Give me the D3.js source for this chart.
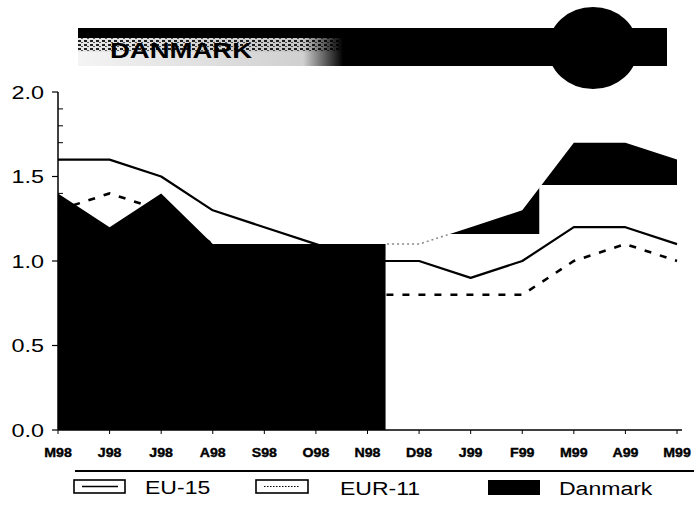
<!DOCTYPE html>
<html>
<head>
<meta charset="utf-8">
<script src="https://cdn.jsdelivr.net/npm/d3@7"></script>
<style>
  html, body { margin: 0; padding: 0; background: #fff; }
  svg { display: block; }
  text { font-family: "Liberation Sans", Arial, sans-serif; }
</style>
</head>
<body>
<div id="chart"></div>
<script>
// ---- data ----
const months = ["M98","J98","J98","A98","S98","O98","N98","D98","J99","F99","M99","A99","M99"];
const eu15   = [1.6,1.6,1.5,1.3,1.2,1.1,1.0,1.0,0.9,1.0,1.2,1.2,1.1];
const eur11  = [1.3,1.4,1.3,1.1,1.0,0.9,0.8,0.8,0.8,0.8,1.0,1.1,1.0];
const danmark= [1.4,1.2,1.4,1.1,1.1,1.1,1.1,1.1,1.2,1.3,1.7,1.7,1.6];
const yTicks = [0.0,0.5,1.0,1.5,2.0];
const title = "DANMARK";
const legendNames = ["EU-15","EUR-11","Danmark"];
// visible portions of the (scanned) Danmark fill: [from index, to index, floor value]
const fillBands = [[0,6.35,0],[7,9.33,1.16],[9.29,12,1.45]];
const faintSpan = [6.35,7.6];

const W = 694, H = 505;
const svg = d3.select("#chart").append("svg").attr("width", W).attr("height", H);

const x = d3.scaleLinear().domain([0, months.length - 1]).range([58, 677]);
const y = d3.scaleLinear().domain([0, 2]).range([430, 92]);

// ---- title banner ----
const banner = svg.append("g");
const defs = svg.append("defs");
const grad = defs.append("linearGradient").attr("id","fade").attr("x1","0").attr("x2","1");
grad.append("stop").attr("offset","0").attr("stop-color","#000").attr("stop-opacity",0);
grad.append("stop").attr("offset","0.85").attr("stop-color","#000").attr("stop-opacity",0.15);
grad.append("stop").attr("offset","1").attr("stop-color","#000").attr("stop-opacity",1);
const pat = defs.append("pattern").attr("id","speck").attr("width",6).attr("height",4).attr("patternUnits","userSpaceOnUse");
pat.append("rect").attr("width",6).attr("height",4).attr("fill","#e8e8e8");
pat.append("rect").attr("x",0).attr("y",0).attr("width",3).attr("height",2).attr("fill","#222");
pat.append("rect").attr("x",3).attr("y",2).attr("width",2).attr("height",1).attr("fill","#555");

banner.append("rect").attr("x",78).attr("y",28).attr("width",589).attr("height",38).attr("fill","#000");
banner.append("rect").attr("x",78).attr("y",38).attr("width",265).attr("height",14).attr("fill","url(#speck)");
banner.append("rect").attr("x",78).attr("y",52).attr("width",265).attr("height",14).attr("fill","#f4f4f4");
banner.append("rect").attr("x",78).attr("y",38).attr("width",265).attr("height",28).attr("fill","url(#fade)");
banner.append("ellipse").attr("cx",593).attr("cy",48).attr("rx",45).attr("ry",41).attr("fill","#000");
banner.append("text").attr("transform","translate(110,58) scale(1.25,1)")
  .attr("font-size",22).attr("font-weight","bold").attr("fill","#000").text(title);

// ---- lines (drawn under the fill) ----
const line = d3.line().x((d,i) => x(i)).y(d => y(d));
svg.append("path").datum(eu15).attr("d", line)
  .attr("fill","none").attr("stroke","#000").attr("stroke-width",2.2).attr("stroke-linejoin","round");
svg.append("path").datum(eur11).attr("d", line)
  .attr("fill","none").attr("stroke","#000").attr("stroke-width",2.6).attr("stroke-dasharray","7,9");

// ---- Danmark fill ----
const clip = defs.append("clipPath").attr("id","dkclip");
fillBands.forEach(b => {
  clip.append("rect").attr("x", x(b[0])).attr("width", x(b[1]) - x(b[0]))
    .attr("y", y(2)).attr("height", y(b[2]) - y(2));
});
const area = d3.area().x((d,i) => x(i)).y0(y(0)).y1(d => y(d));
svg.append("path").datum(danmark).attr("d", area).attr("fill","#000").attr("clip-path","url(#dkclip)");

// faint scanned remnant of the fill's top edge
const clip2 = defs.append("clipPath").attr("id","faint");
clip2.append("rect").attr("x", x(faintSpan[0])).attr("width", x(faintSpan[1]) - x(faintSpan[0]))
  .attr("y", y(2)).attr("height", y(0) - y(2));
svg.append("path").datum(danmark).attr("d", line).attr("fill","none")
  .attr("stroke","#888").attr("stroke-width",1.5).attr("stroke-dasharray","2,3")
  .attr("clip-path","url(#faint)");

// ---- y axis ----
const yAxisG = svg.append("g");
yAxisG.append("line").attr("x1",58).attr("x2",58).attr("y1",y(2)).attr("y2",y(0)).attr("stroke","#000").attr("stroke-width",1.5);
yTicks.forEach(v => {
  yAxisG.append("line").attr("x1",52).attr("x2",58).attr("y1",y(v)).attr("y2",y(v)).attr("stroke","#000").attr("stroke-width",1.2);
  yAxisG.append("text").attr("transform",`translate(44,${y(v)+6.5}) scale(1.3,1)`)
    .attr("text-anchor","end").attr("font-size",18).text(v.toFixed(1));
});
d3.range(1,20).filter(i => i % 5 !== 0).forEach(i => {
  const v = i / 10;
  yAxisG.append("line").attr("x1",58).attr("x2",63).attr("y1",y(v)).attr("y2",y(v)).attr("stroke","#000").attr("stroke-width",1);
});

// ---- x axis ----
const xAxisG = svg.append("g");
xAxisG.append("line").attr("x1",58).attr("x2",682).attr("y1",430).attr("y2",430).attr("stroke","#000").attr("stroke-width",1.5);
months.forEach((m,i) => {
  xAxisG.append("line").attr("x1",x(i)).attr("x2",x(i)).attr("y1",430).attr("y2",434).attr("stroke","#000").attr("stroke-width",1);
  xAxisG.append("text").attr("transform",`translate(${x(i)},457) scale(1.05,1)`)
    .attr("text-anchor","middle").attr("font-size",13.5).attr("font-weight","bold")
    .attr("stroke","#000").attr("stroke-width",0.4).text(m);
});

// ---- legend ----
const lg = svg.append("g");
lg.append("line").attr("x1",75).attr("x2",694).attr("y1",471).attr("y2",471).attr("stroke","#000").attr("stroke-width",2);
// EU-15
lg.append("rect").attr("x",74).attr("y",480).attr("width",51).attr("height",13).attr("fill","#fff").attr("stroke","#000").attr("stroke-width",1.6);
lg.append("line").attr("x1",82).attr("x2",118).attr("y1",486.5).attr("y2",486.5).attr("stroke","#000").attr("stroke-width",1.4);
lg.append("text").attr("transform","translate(145,494) scale(1.28,1)").attr("font-size",18).text(legendNames[0]);
// EUR-11
lg.append("rect").attr("x",256).attr("y",480).attr("width",52).attr("height",13).attr("fill","#fff").attr("stroke","#000").attr("stroke-width",1.6);
lg.append("line").attr("x1",264).attr("x2",300).attr("y1",486.5).attr("y2",486.5).attr("stroke","#000").attr("stroke-width",1).attr("stroke-dasharray","1.5,1.5");
lg.append("text").attr("transform","translate(340,495) scale(1.28,1)").attr("font-size",18).text(legendNames[1]);
// Danmark
lg.append("rect").attr("x",488).attr("y",480).attr("width",52).attr("height",15).attr("fill","#000");
lg.append("text").attr("transform","translate(559,495) scale(1.28,1)").attr("font-size",18).text(legendNames[2]);
</script>
</body>
</html>
